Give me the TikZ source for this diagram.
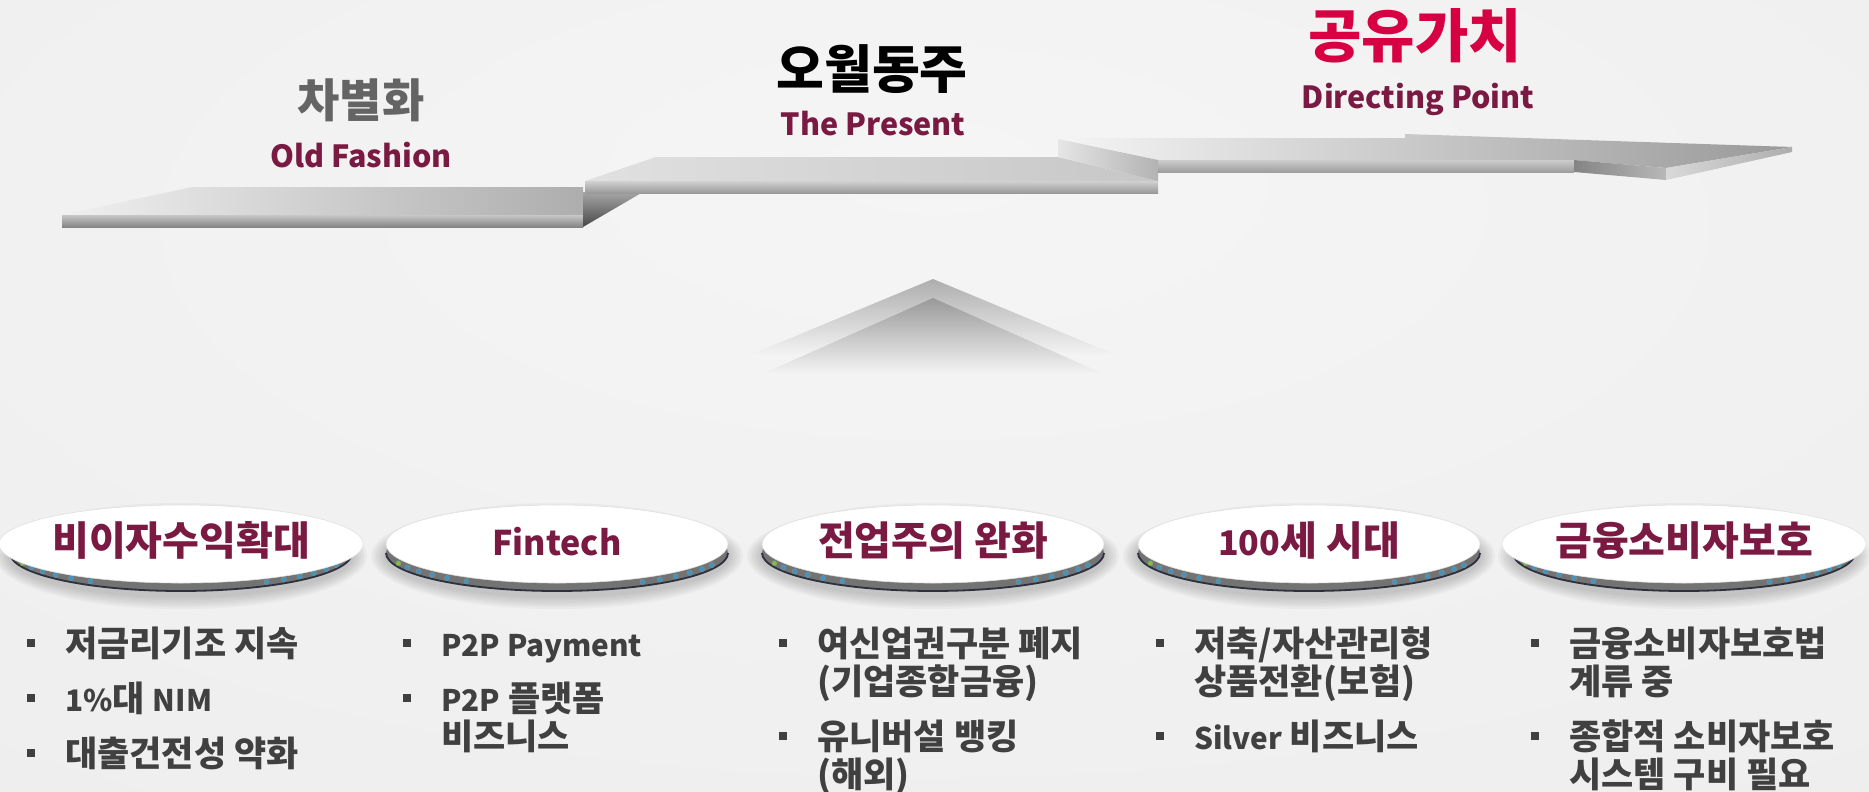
\documentclass[tikz,border=0pt]{standalone}
\usepackage{fontspec}
\setmainfont{Noto Sans CJK KR}
\newfontfamily\enfont{Noto Sans CJK KR}[Scale=0.85]
\usetikzlibrary{shapes.geometric}

\definecolor{maroon}{RGB}{122,26,66}
\definecolor{crimson}{RGB}{214,0,66}
\definecolor{oldgray}{RGB}{100,100,100}
\definecolor{bodygray}{RGB}{64,64,64}
\definecolor{bgin}{RGB}{245,245,245}
\definecolor{bgout}{RGB}{226,226,226}
\definecolor{ledblue}{RGB}{60,150,195}
\definecolor{ledgreen}{RGB}{120,195,60}
\definecolor{rimline}{RGB}{45,48,62}

\pgfdeclareradialshading{backdrop}{\pgfpoint{0bp}{15bp}}{color(0bp)=(bgin); color(45bp)=(bgin!60!bgout); color(75bp)=(bgout)}
\pgfdeclareradialshading{discface}{\pgfpoint{0bp}{0bp}}{color(0bp)=(white); color(38bp)=(white); color(50bp)=(black!14)}

\newcommand\bul{\makebox[38pt][l]{\rule[9pt]{8pt}{8pt}}}
\newcommand\ind{\hspace*{38pt}}

\begin{document}
\begin{tikzpicture}[x=1pt,y=-1pt,
    head/.style={font=\fontsize{#1}{#1}\selectfont\bfseries},
    sub/.style={font=\fontsize{30.5}{31}\selectfont\bfseries, text=maroon},
    disc/.style={ellipse, minimum width=342pt, minimum height=78pt, inner sep=0pt,
        shade, shading=discface, draw=black!12, line width=0.6pt,
        text height=30pt, text depth=8pt,
        text=maroon, font=\fontsize{40}{40}\selectfont\bfseries},
    led/.style={fill=#1, draw=black!45, line width=0.4pt},
    items/.style={anchor=base west, align=left, inner sep=0pt, text=bodygray,
        font=\fontsize{35}{38}\selectfont\bfseries}]
    \useasboundingbox (0,0) rectangle (1869,792);
    \shade[shading=backdrop] (0,0) rectangle (1869,792); %backdrop

    % the three steps
    \shade[left color=black!6, right color=black!32] (62,215) -- (192,187) -- (583,187) -- (583,215) -- cycle; %top1
    \shade[top color=black!22, bottom color=black!48] (62,215) rectangle (583,227); %front1
    \shade[top color=black!35, bottom color=black!72] (583,192) -- (643,192) -- (583,227) -- cycle; %riser1

    \shade[left color=black!12, right color=black!22] (585,181) -- (656,157) -- (1058,157) -- (1158,181) -- cycle; %top2
    \shade[top color=black!18, bottom color=black!40] (585,181) rectangle (1158,193); %front2

    \shade[left color=black!4, right color=black!40] (1058,138) -- (1405,138) -- (1405,134) -- (1792,147) -- (1666,168) -- (1574,160) -- (1158,160) -- cycle; %top3
    \shade[left color=black!10, right color=black!30] (1058,139) -- (1158,160) -- (1158,181) -- (1058,157) -- cycle; %riser2
    \shade[top color=black!20, bottom color=black!38] (1158,160) rectangle (1574,172); %front3
    \shade[left color=black!48, right color=black!28] (1574,160) -- (1666,168) -- (1666,180) -- (1574,172) -- cycle; %head left
    \shade[left color=black!15, right color=black!32] (1666,168) -- (1792,147) -- (1792,152) -- (1666,180) -- cycle; %head right

    % chevron
    \shade[top color=black!32, bottom color=bgin] (745,357) -- (933,279) -- (1121,357) -- cycle;
    \shade[top color=black!40, bottom color=bgin] (760,375) -- (933,298) -- (1106,375) -- cycle;

    \node[head=46, text=oldgray] (old) at (361,100) {차별화};
    \node[sub] (oldsub) at (361,155) {Old Fashion};
    \node[head=52, text=black] (now) at (872,69) {오월동주};
    \node[sub] (nowsub) at (873,124) {The Present};
    \node[head=58, text=crimson] (goal) at (1415,36) {공유가치};
    \node[sub] (goalsub) at (1418,99) {Directing Point};

    % disc rims, shadows and leds
    \foreach \cx in {181,557,933,1309,1684} {
        \foreach \k in {1,...,6}
            \fill[black, opacity=.03] (\cx,556) ellipse ({171+2.5*\k} and {40+2.2*\k});
        \shade[left color=black!55, middle color=black!6, right color=black!55] (\cx,553) ellipse (171 and 38);
        \draw[rimline, line width=1.8pt] (\cx-171,553) arc (180:0:171 and 38);
        \path[led=ledgreen] (\cx,549) +(158:171 and 38) circle (2.6);
        \foreach \a in {151,144,137,130,122}
            \path[led=ledblue] (\cx,549) +(\a:171 and 38) circle (2.6);
        \foreach \a in {60,53,46,39,32,25}
            \path[led=ledblue] (\cx,549) +(\a:171 and 38) circle (2.6);
    }

    \node[disc] (d1) at (181,544) {비이자수익확대};
    \node[disc] (d2) at (557,544) {{\enfont Fintech}};
    \node[disc] (d3) at (933,544) {전업주의 완화};
    \node[disc] (d4) at (1309,544) {{\enfont 100}세 시대};
    \node[disc] (d5) at (1684,544) {금융소비자보호};

    \node[items] (l1) at (27,766) {\bul 저금리기조 지속\\[17pt]\bul {\enfont 1\%}대 {\enfont NIM}\\[17pt]\bul 대출건전성 약화};
    \node[items] (l2) at (403,749) {\bul {\enfont P2P Payment}\\[17pt]\bul {\enfont P2P} 플랫폼\\\ind 비즈니스};
    \node[items] (l3) at (779,787) {\bul 여신업권구분 폐지\\\ind (기업종합금융)\\[17pt]\bul 유니버설 뱅킹\\\ind (해외)};
    \node[items] (l4) at (1156,749) {\bul 저축/자산관리형\\\ind 상품전환(보험)\\[17pt]\bul {\enfont Silver} 비즈니스};
    \node[items] (l5) at (1531,787) {\bul 금융소비자보호법\\\ind 계류 중\\[17pt]\bul 종합적 소비자보호\\\ind 시스템 구비 필요};
\end{tikzpicture}
\end{document}
